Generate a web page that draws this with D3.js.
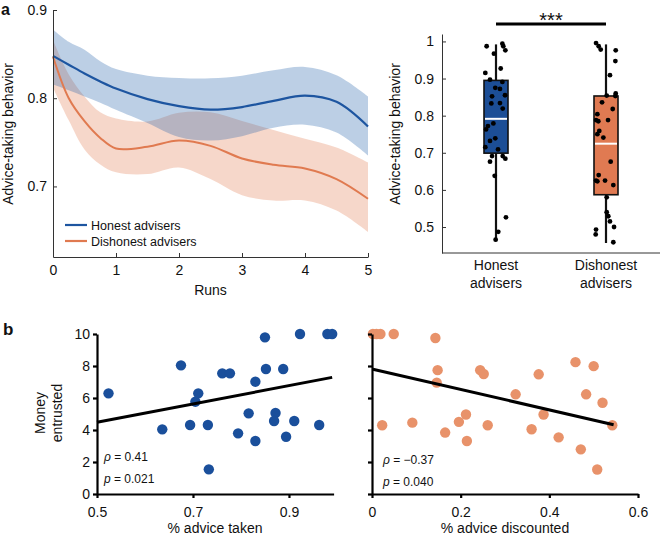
<!DOCTYPE html>
<html><head><meta charset="utf-8">
<script src="https://cdn.jsdelivr.net/npm/d3@7"></script>
<style>
body{margin:0;background:#fff;}
svg text{font-family:"Liberation Sans",Arial,Helvetica,sans-serif;fill:#111;}
</style></head>
<body><svg id="c" width="661" height="539"></svg>
<script>
// ---------- Panel a (left): advice-taking over runs ----------
const runs        = [0,0.25,0.5,0.75,1,1.5,2,2.5,3,3.5,4,4.5,5];
const honestMean  = [0.848,0.838,0.828,0.819,0.811,0.799,0.791,0.787,0.790,0.797,0.803,0.796,0.768];
const honestUpper = [0.878,0.864,0.855,0.842,0.833,0.8256,0.823,0.8226,0.8256,0.8316,0.8354,0.826,0.802];
const honestLower = [0.8155,0.809,0.802,0.795,0.787,0.772,0.756,0.752,0.757,0.7666,0.770,0.761,0.735];
const dishMean    = [0.847,0.800,0.774,0.755,0.743,0.745,0.752,0.746,0.7317,0.7245,0.7204,0.7083,0.686];
const dishUpper   = [0.866,0.827,0.802,0.784,0.777,0.7737,0.7835,0.784,0.7741,0.764,0.754,0.744,0.727];
const dishLower   = [0.812,0.775,0.742,0.725,0.716,0.714,0.7215,0.7083,0.690,0.684,0.684,0.6726,0.6483];
const runTicks    = [0,1,2,3,4,5];
const lineYTicks  = [0.7,0.8,0.9];
const legendLabels = ["Honest advisers","Dishonest advisers"];

// ---------- Panel a (right): box plots ----------
const boxCategories = ["Honest\nadvisers","Dishonest\nadvisers"];
// [min, q1, median, q3, max]
const honestBox    = [0.462,0.699,0.7915,0.895,0.992];
const dishonestBox = [0.457,0.587,0.7245,0.853,0.992];
const honestPts    = [0.987,0.994,0.987,0.976,0.967,0.927,0.915,0.897,0.891,0.875,0.872,0.855,0.852,0.834,0.833,0.819,0.779,0.772,0.763,0.739,0.732,0.715,0.709,0.691,0.691,0.684,0.676,0.638,0.526,0.487,0.466];
const honestJit    = [-0.78,0.53,0.61,0.78,-0.17,0.39,-0.89,-0.5,0.53,-0.06,0.33,0.75,-0.33,0.33,-0.39,0.56,-0.22,-0.67,-0.83,-0.06,-0.5,-0.89,0.17,-0.33,0.56,0.78,-0.5,-0.11,0.83,0.19,-0.03];
const dishPts      = [0.9955,0.987,0.978,0.976,0.947,0.909,0.860,0.853,0.854,0.836,0.818,0.804,0.788,0.788,0.785,0.759,0.750,0.741,0.676,0.640,0.625,0.623,0.625,0.613,0.580,0.540,0.529,0.515,0.500,0.493,0.480,0.459];
const dishJit      = [-0.83,-0.61,-0.44,0.81,0.78,0.33,0.81,0.78,0.06,-0.33,0.56,-0.72,-0.83,0.17,-0.64,-0.56,-0.72,-0.22,0.39,-0.61,-0.83,-0.72,-0.08,0.61,0.06,0.06,0.19,0.33,0.67,-0.83,-0.86,0.61];
const boxYTicks    = [0.5,0.6,0.7,0.8,0.9,1];
const sigLabel     = "***";

// ---------- Panel b: scatter plots ----------
const adviceTaken  = [0.524,0.636,0.675,0.694,0.705,0.711,0.731,0.733,0.761,0.777,0.794,0.816,0.830,0.830,0.850,0.852,0.872,0.869,0.888,0.894,0.911,0.923,0.963,0.980,0.990];
const moneyHonest  = [6.29,4.04,8.04,4.31,5.77,6.29,4.31,1.54,7.54,7.54,3.79,5.04,7.02,3.31,9.79,7.81,5.06,4.56,7.81,3.58,4.56,10,4.31,10,10];
const adviceDisc   = [0.002,0.01,0.019,0.049,0.023,0.091,0.143,0.148,0.146,0.165,0.196,0.212,0.214,0.244,0.252,0.261,0.324,0.36,0.376,0.387,0.421,0.459,0.471,0.483,0.5,0.508,0.52,0.542];
const moneyDish    = [10,10,10,10,4.3,4.46,9.75,7.74,6.96,3.84,4.51,4.97,3.31,7.74,7.5,4.3,6.23,4.05,7.48,4.97,3.54,8.24,2.79,6.23,7.99,1.53,5.7,4.3];
const takenFitX    = [0.5,0.99];
const takenFitY    = [4.48,7.29];
const discFitX     = [0.002,0.545];
const discFitY     = [7.8,4.33];
const takenTicks   = [0.5,0.7,0.9];
const discTicks    = [0,0.2,0.4,0.6];
const moneyTicks   = [0,2,4,6,8,10];
const statsTaken   = ["0.41","0.021"];
const statsDisc    = ["\u22120.37","0.040"];

// ---------- styles ----------
const BLUE = "#1d55a0", ORANGE = "#e07a50";
const BOXBLUE = "#1c4e96", BOXORANGE = "#e07a52";
const DOTBLUE = "#1a4f9b", DOTORANGE = "#e8926a";

const svg = d3.select("#c");

// ===== Panel a left =====
const xr = d3.scaleLinear().domain([0,5]).range([53,368]);
const yr = d3.scaleLinear().domain([0.62,0.9]).range([257,10]);
const curve = d3.curveCatmullRom.alpha(0.5);

function band(up, lo){
  return d3.area().x((d,i)=>xr(runs[i])).y0((d,i)=>yr(lo[i])).y1((d,i)=>yr(up[i])).curve(curve)(runs);
}
function ln(vals){
  return d3.line().x((d,i)=>xr(runs[i])).y((d,i)=>yr(vals[i])).curve(curve)(runs);
}
const ga = svg.append("g");
ga.append("path").attr("d", band(dishUpper, dishLower)).attr("fill", ORANGE).attr("fill-opacity",0.3);
ga.append("path").attr("d", band(honestUpper, honestLower)).attr("fill", "#2060a8").attr("fill-opacity",0.3);
ga.append("path").attr("d", ln(dishMean)).attr("fill","none").attr("stroke",ORANGE).attr("stroke-width",2);
ga.append("path").attr("d", ln(honestMean)).attr("fill","none").attr("stroke",BLUE).attr("stroke-width",2.2);

const axA1 = ga.append("g").attr("transform","translate(0,257)")
  .call(d3.axisBottom(xr).tickValues(runTicks).tickSize(-4).tickSizeOuter(0).tickPadding(8).tickFormat(d3.format("d")));
const axA2 = ga.append("g").attr("transform","translate(53,0)")
  .call(d3.axisLeft(yr).tickValues(lineYTicks).tickSize(-4).tickSizeOuter(0).tickPadding(6).tickFormat(d3.format(".1f")));
[axA1,axA2].forEach(a=>{
  a.selectAll("path,line").attr("stroke","#333").attr("stroke-width",1);
  a.selectAll("text").attr("font-size",14).style("font-family","Liberation Sans, Arial, sans-serif").attr("fill","#111");
});
ga.append("text").attr("x",210.5).attr("y",295).attr("text-anchor","middle").attr("font-size",14).text("Runs");
ga.append("text").attr("transform","translate(13,134) rotate(-90)").attr("text-anchor","middle").attr("font-size",14).text("Advice-taking behavior");

// legend
const leg = ga.append("g");
[BLUE, ORANGE].forEach((c,i)=>{
  const yy = 225 + i*16;
  leg.append("line").attr("x1",65).attr("x2",87).attr("y1",yy).attr("y2",yy).attr("stroke",c).attr("stroke-width",2.2);
  leg.append("text").attr("x",91).attr("y",yy+4.5).attr("font-size",12.5).text(legendLabels[i]);
});
svg.append("text").attr("x",1).attr("y",14.8).attr("font-size",16).attr("font-weight","bold").text("a");

// ===== Panel a right: box plot =====
const xb = d3.scalePoint().domain(boxCategories).range([496,606]);
const yb = d3.scaleLinear().domain([0.43,1.02]).range([253,34]);
const gb = svg.append("g");
const half = 12;
const boxes = [
  {cat:boxCategories[0], s:honestBox, pts:honestPts, jit:honestJit, fill:BOXBLUE},
  {cat:boxCategories[1], s:dishonestBox, pts:dishPts, jit:dishJit, fill:BOXORANGE}
];
boxes.forEach(b=>{
  const cx = xb(b.cat);
  gb.append("line").attr("x1",cx).attr("x2",cx).attr("y1",yb(b.s[0])).attr("y2",yb(b.s[4])).attr("stroke","#111").attr("stroke-width",2.2);
  gb.append("rect").attr("x",cx-half).attr("width",half*2).attr("y",yb(b.s[3])).attr("height",yb(b.s[1])-yb(b.s[3]))
    .attr("fill",b.fill).attr("stroke","#111").attr("stroke-width",1.6);
  gb.append("line").attr("x1",cx-half+1).attr("x2",cx+half-1).attr("y1",yb(b.s[2])).attr("y2",yb(b.s[2])).attr("stroke","#fff").attr("stroke-width",2);
  gb.selectAll(null).data(b.pts).join("circle")
    .attr("cx",(d,i)=>cx + b.jit[i]*half).attr("cy",d=>yb(d)).attr("r",2.4).attr("fill","#000");
});
const axB = gb.append("g").attr("transform","translate(442,0)")
  .call(d3.axisLeft(yb).tickValues(boxYTicks).tickSize(-4).tickSizeOuter(0).tickPadding(8).tickFormat(d=>d===1?"1":d.toFixed(1)));
axB.selectAll("path,line").attr("stroke","#333").attr("stroke-width",1);
axB.selectAll("text").attr("font-size",14).style("font-family","Liberation Sans, Arial, sans-serif").attr("fill","#111");
gb.append("line").attr("x1",442).attr("x2",660).attr("y1",yb.range()[0]).attr("y2",yb.range()[0]).attr("stroke","#333").attr("stroke-width",1);
boxCategories.forEach(c=>{
  const t = gb.append("text").attr("text-anchor","middle").attr("font-size",14);
  c.split("\n").forEach((s,i)=>t.append("tspan").attr("x",xb(c)).attr("y",270+i*18).text(s));
});
gb.append("text").attr("transform","translate(400,134) rotate(-90)").attr("text-anchor","middle").attr("font-size",14).text("Advice-taking behavior");
// significance
gb.append("line").attr("x1",xb(boxCategories[0])).attr("x2",xb(boxCategories[1])).attr("y1",24).attr("y2",24).attr("stroke","#000").attr("stroke-width",3);
gb.append("text").attr("x",(xb(boxCategories[0])+xb(boxCategories[1]))/2).attr("y",27).attr("text-anchor","middle").attr("font-size",20).text(sigLabel);

// ===== Panel b =====
const ym = d3.scaleLinear().domain([0,10]).range([494,334]);
function scatterPanel(xs, xv, yv, color, fitX, fitY, ticks, fmt, labelsY, title, titleX, stats, statX, statY){
  const g = svg.append("g");
  g.selectAll(null).data(xv).join("circle")
    .attr("cx",(d)=>xs(d)).attr("cy",(d,i)=>ym(yv[i])).attr("r",5.2).attr("fill",color);
  g.append("line").attr("x1",xs(fitX[0])).attr("x2",xs(fitX[1])).attr("y1",ym(fitY[0])).attr("y2",ym(fitY[1]))
    .attr("stroke","#000").attr("stroke-width",3);
  const ax = g.append("g").attr("transform","translate(0,494)")
    .call(d3.axisBottom(xs).tickValues(ticks).tickSize(4).tickSizeOuter(0).tickPadding(9).tickFormat(fmt));
  const ay = g.append("g").attr("transform",`translate(${xs.range()[0]},0)`)
    .call(d3.axisLeft(ym).tickValues(moneyTicks).tickSize(4).tickSizeOuter(0).tickPadding(3).tickFormat(labelsY?d3.format("d"):""));
  [ax,ay].forEach(a=>{
    a.selectAll("path,line").attr("stroke","#000").attr("stroke-width",2.2);
    a.selectAll("text").attr("font-size",14).style("font-family","Liberation Sans, Arial, sans-serif").attr("fill","#111");
  });
  g.append("text").attr("x",titleX).attr("y",533).attr("text-anchor","middle").attr("font-size",14).text(title);
  const t1 = g.append("text").attr("x",statX).attr("y",statY).attr("font-size",12);
  t1.append("tspan").attr("font-style","italic").text("\u03c1");
  t1.append("tspan").text(" = "+stats[0]);
  const t2 = g.append("text").attr("x",statX).attr("y",statY+22).attr("font-size",12);
  t2.append("tspan").attr("font-style","italic").text("p");
  t2.append("tspan").text(" = "+stats[1]);
}
const xt = d3.scaleLinear().domain([0.5,0.993]).range([97,333.6]);
const xd = d3.scaleLinear().domain([0,0.6]).range([372,638]);
scatterPanel(xt, adviceTaken, moneyHonest, DOTBLUE, takenFitX, takenFitY, takenTicks, d3.format(".1f"), true, "% advice taken", 215, statsTaken, 104, 461);
scatterPanel(xd, adviceDisc, moneyDish, DOTORANGE, discFitX, discFitY, discTicks, d=>d===0?"0":d.toFixed(1), false, "% advice discounted", 505, statsDisc, 383, 464);

const ytl = svg.append("text").attr("transform","translate(45,413) rotate(-90)").attr("text-anchor","middle").attr("font-size",14);
ytl.append("tspan").attr("x",0).attr("y",0).text("Money");
ytl.append("tspan").attr("x",0).attr("y",17).text("entrusted");
svg.append("text").attr("x",3).attr("y",335).attr("font-size",17).attr("font-weight","bold").text("b");
</script></body></html>
